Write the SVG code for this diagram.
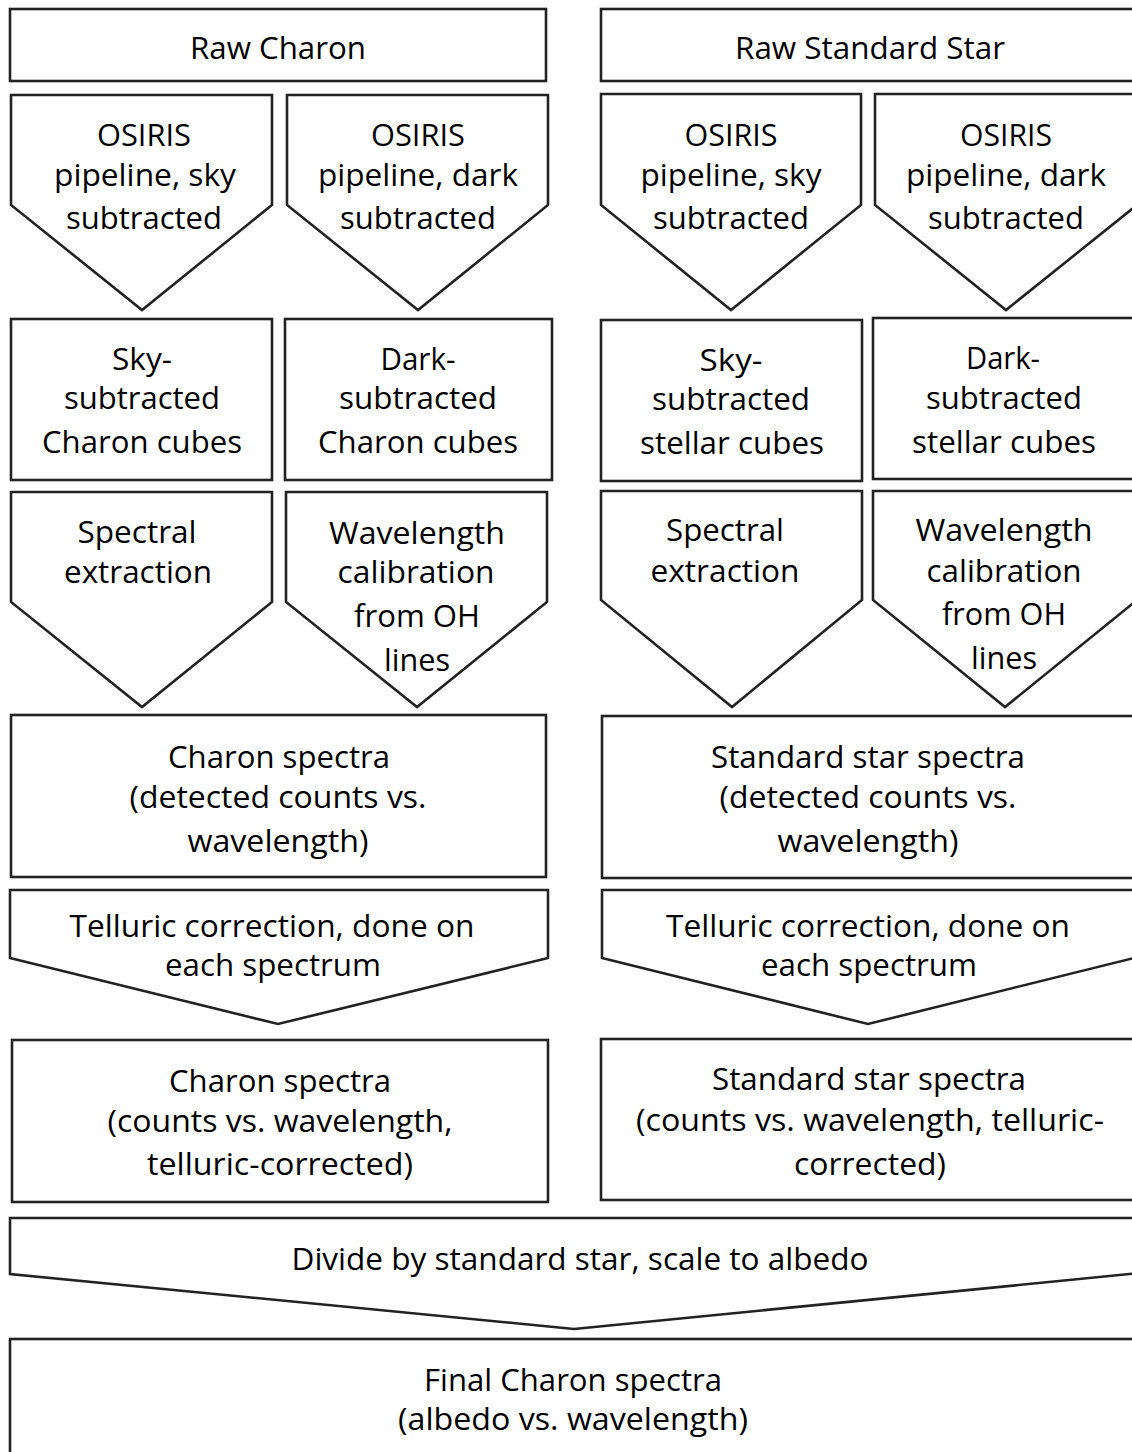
<svg xmlns="http://www.w3.org/2000/svg" width="1132" height="1452" viewBox="0 0 1132 1452">
<style>
.s{fill:#fff;stroke:#222;stroke-width:2.6;stroke-linejoin:miter}
.t{font-family:"Open Sans","Noto Sans","Liberation Sans",sans-serif;font-size:31px;fill:#000;text-anchor:middle}
</style>
<rect width="1132" height="1452" fill="#fff"/>
<g id="connectors"/>
<g id="raw-charon"><rect class="s" x="10" y="9" width="536" height="72"/><text class="t" x="278" y="59" textLength="176" lengthAdjust="spacingAndGlyphs">Raw Charon</text></g>
<g id="raw-star"><rect class="s" x="601" y="9" width="545" height="72"/><text class="t" x="870" y="59" textLength="270" lengthAdjust="spacingAndGlyphs">Raw Standard Star</text></g>

<g id="charon-osiris-sky"><polygon class="s" points="11,95 272,95 272,205 142,310 11,205"/>
<text class="t" x="144" y="146" textLength="94" lengthAdjust="spacingAndGlyphs">OSIRIS</text>
<text class="t" x="145" y="186" textLength="182" lengthAdjust="spacingAndGlyphs">pipeline, sky</text>
<text class="t" x="144" y="229" textLength="156" lengthAdjust="spacingAndGlyphs">subtracted</text></g>
<g id="charon-osiris-dark"><polygon class="s" points="287,95 548,95 548,205 418,310 287,205"/>
<text class="t" x="418" y="146" textLength="94" lengthAdjust="spacingAndGlyphs">OSIRIS</text>
<text class="t" x="418" y="186" textLength="200" lengthAdjust="spacingAndGlyphs">pipeline, dark</text>
<text class="t" x="418" y="229" textLength="156" lengthAdjust="spacingAndGlyphs">subtracted</text></g>
<g id="star-osiris-sky"><polygon class="s" points="601,94 861,94 861,205 731,310 601,205"/>
<text class="t" x="731" y="146" textLength="93" lengthAdjust="spacingAndGlyphs">OSIRIS</text>
<text class="t" x="731" y="186" textLength="181" lengthAdjust="spacingAndGlyphs">pipeline, sky</text>
<text class="t" x="731" y="229" textLength="156" lengthAdjust="spacingAndGlyphs">subtracted</text></g>
<g id="star-osiris-dark"><polygon class="s" points="875,94 1137,94 1137,205 1006,310 875,205"/>
<text class="t" x="1006" y="146" textLength="92" lengthAdjust="spacingAndGlyphs">OSIRIS</text>
<text class="t" x="1006" y="186" textLength="200" lengthAdjust="spacingAndGlyphs">pipeline, dark</text>
<text class="t" x="1006" y="229" textLength="156" lengthAdjust="spacingAndGlyphs">subtracted</text></g>

<g id="charon-sky-cubes"><rect class="s" x="11" y="319" width="261" height="161"/>
<text class="t" x="142" y="370" textLength="60" lengthAdjust="spacingAndGlyphs">Sky-</text>
<text class="t" x="142" y="409" textLength="156" lengthAdjust="spacingAndGlyphs">subtracted</text>
<text class="t" x="142" y="453" textLength="200" lengthAdjust="spacingAndGlyphs">Charon cubes</text></g>
<g id="charon-dark-cubes"><rect class="s" x="285" y="319" width="267" height="161"/>
<text class="t" x="418" y="370" textLength="75" lengthAdjust="spacingAndGlyphs">Dark-</text>
<text class="t" x="418" y="409" textLength="158" lengthAdjust="spacingAndGlyphs">subtracted</text>
<text class="t" x="418" y="453" textLength="200" lengthAdjust="spacingAndGlyphs">Charon cubes</text></g>
<g id="star-sky-cubes"><rect class="s" x="601" y="320" width="261" height="161"/>
<text class="t" x="731" y="371" textLength="63" lengthAdjust="spacingAndGlyphs">Sky-</text>
<text class="t" x="731" y="410" textLength="158" lengthAdjust="spacingAndGlyphs">subtracted</text>
<text class="t" x="732" y="454" textLength="184" lengthAdjust="spacingAndGlyphs">stellar cubes</text></g>
<g id="star-dark-cubes"><rect class="s" x="873" y="318" width="272" height="161"/>
<text class="t" x="1003" y="369" textLength="74" lengthAdjust="spacingAndGlyphs">Dark-</text>
<text class="t" x="1004" y="409" textLength="156" lengthAdjust="spacingAndGlyphs">subtracted</text>
<text class="t" x="1004" y="453" textLength="184" lengthAdjust="spacingAndGlyphs">stellar cubes</text></g>

<g id="charon-extraction"><polygon class="s" points="11,492 272,492 272,602 142,707 11,602"/>
<text class="t" x="137" y="543" textLength="119" lengthAdjust="spacingAndGlyphs">Spectral</text>
<text class="t" x="138" y="583" textLength="148" lengthAdjust="spacingAndGlyphs">extraction</text></g>
<g id="charon-wavecal"><polygon class="s" points="286,492 547,492 547,602 417,707 286,602"/>
<text class="t" x="417" y="544" textLength="176" lengthAdjust="spacingAndGlyphs">Wavelength</text>
<text class="t" x="416" y="583" textLength="157" lengthAdjust="spacingAndGlyphs">calibration</text>
<text class="t" x="417" y="627" textLength="126" lengthAdjust="spacingAndGlyphs">from OH</text>
<text class="t" x="417" y="671" textLength="66" lengthAdjust="spacingAndGlyphs">lines</text></g>
<g id="star-extraction"><polygon class="s" points="601,491 862,491 862,600 732,707 601,600"/>
<text class="t" x="725" y="541" textLength="118" lengthAdjust="spacingAndGlyphs">Spectral</text>
<text class="t" x="725" y="582" textLength="149" lengthAdjust="spacingAndGlyphs">extraction</text></g>
<g id="star-wavecal"><polygon class="s" points="873,491 1137,491 1137,600 1005,707 873,600"/>
<text class="t" x="1004" y="541" textLength="177" lengthAdjust="spacingAndGlyphs">Wavelength</text>
<text class="t" x="1004" y="582" textLength="155" lengthAdjust="spacingAndGlyphs">calibration</text>
<text class="t" x="1004" y="625" textLength="124" lengthAdjust="spacingAndGlyphs">from OH</text>
<text class="t" x="1004" y="669" textLength="66" lengthAdjust="spacingAndGlyphs">lines</text></g>

<g id="charon-spectra"><rect class="s" x="11" y="715" width="535" height="162"/>
<text class="t" x="279" y="768" textLength="222" lengthAdjust="spacingAndGlyphs">Charon spectra</text>
<text class="t" x="278" y="808" textLength="297" lengthAdjust="spacingAndGlyphs">(detected counts vs.</text>
<text class="t" x="278" y="852" textLength="181" lengthAdjust="spacingAndGlyphs">wavelength)</text></g>
<g id="star-spectra"><rect class="s" x="602" y="716" width="545" height="162"/>
<text class="t" x="868" y="768" textLength="314" lengthAdjust="spacingAndGlyphs">Standard star spectra</text>
<text class="t" x="868" y="808" textLength="297" lengthAdjust="spacingAndGlyphs">(detected counts vs.</text>
<text class="t" x="868" y="852" textLength="181" lengthAdjust="spacingAndGlyphs">wavelength)</text></g>

<g id="charon-telluric"><polygon class="s" points="10,890 548,890 548,958 278,1024 10,958"/>
<text class="t" x="272" y="937" textLength="405" lengthAdjust="spacingAndGlyphs">Telluric correction, done on</text>
<text class="t" x="273" y="976" textLength="216" lengthAdjust="spacingAndGlyphs">each spectrum</text></g>
<g id="star-telluric"><polygon class="s" points="602,890 1134,890 1134,958 868,1024 602,958"/>
<text class="t" x="868" y="937" textLength="404" lengthAdjust="spacingAndGlyphs">Telluric correction, done on</text>
<text class="t" x="869" y="976" textLength="216" lengthAdjust="spacingAndGlyphs">each spectrum</text></g>

<g id="charon-corrected"><rect class="s" x="12" y="1040" width="536" height="162"/>
<text class="t" x="280" y="1092" textLength="222" lengthAdjust="spacingAndGlyphs">Charon spectra</text>
<text class="t" x="280" y="1132" textLength="345" lengthAdjust="spacingAndGlyphs">(counts vs. wavelength,</text>
<text class="t" x="280" y="1175" textLength="266" lengthAdjust="spacingAndGlyphs">telluric-corrected)</text></g>
<g id="star-corrected"><rect class="s" x="601" y="1039" width="546" height="161"/>
<text class="t" x="869" y="1090" textLength="314" lengthAdjust="spacingAndGlyphs">Standard star spectra</text>
<text class="t" x="870" y="1131" textLength="468" lengthAdjust="spacingAndGlyphs">(counts vs. wavelength, telluric-</text>
<text class="t" x="870" y="1175" textLength="152" lengthAdjust="spacingAndGlyphs">corrected)</text></g>

<g id="divide"><polygon class="s" points="10,1218 1140,1218 1140,1273 574,1329 10,1274"/>
<text class="t" x="580" y="1270" textLength="577" lengthAdjust="spacingAndGlyphs">Divide by standard star, scale to albedo</text></g>

<g id="final"><rect class="s" x="10" y="1339" width="1140" height="140"/>
<text class="t" x="573" y="1391" textLength="298" lengthAdjust="spacingAndGlyphs">Final Charon spectra</text>
<text class="t" x="573" y="1430" textLength="350" lengthAdjust="spacingAndGlyphs">(albedo vs. wavelength)</text></g>
</svg>
